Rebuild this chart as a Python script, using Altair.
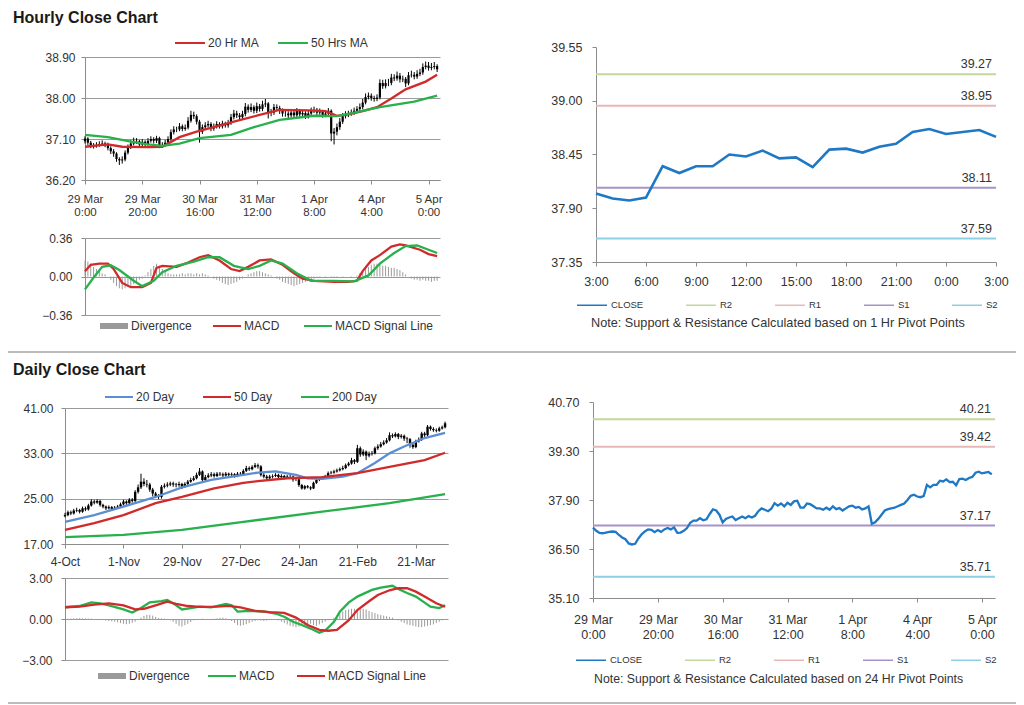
import altair as alt
import pandas as pd

# ---------------------------------------------------------------- data
section_titles = ["Hourly Close Chart", "Daily Close Chart"]
notes = ["Note: Support & Resistance Calculated based on 1 Hr Pivot Points",
         "Note: Support & Resistance Calculated based on 24 Hr Pivot Points"]

hourly_labels = [["29 Mar", "0:00"], ["29 Mar", "20:00"], ["30 Mar", "16:00"], ["31 Mar", "12:00"],
                 ["1 Apr", "8:00"], ["4 Apr", "4:00"], ["5 Apr", "0:00"]]
hourly_ticks = [0, 20, 40, 60, 80, 100, 120]
last24_labels = ["3:00", "6:00", "9:00", "12:00", "15:00", "18:00", "21:00", "0:00", "3:00"]
last24_ticks = [0, 3, 6, 9, 12, 15, 18, 21, 24]
daily_labels = ["4-Oct", "1-Nov", "29-Nov", "27-Dec", "24-Jan", "21-Feb", "21-Mar"]
daily_ticks = [0, 20, 40, 60, 80, 100, 120]

hourly_first_open = 37.05
hourly_close = [37.11, 37.02, 36.96, 36.95, 36.97, 36.99, 37.00, 36.99, 36.90, 36.83,
                36.78, 36.66, 36.63, 36.65, 36.80, 36.92, 37.00, 37.06, 37.05, 36.98,
                37.04, 36.99, 37.06, 37.10, 37.06, 37.12, 36.96, 36.97, 37.02, 37.10,
                37.25, 37.31, 37.31, 37.38, 37.32, 37.35, 37.50, 37.63, 37.60, 37.48,
                37.26, 37.36, 37.40, 37.43, 37.33, 37.38, 37.43, 37.38, 37.44, 37.40,
                37.45, 37.58, 37.66, 37.62, 37.58, 37.65, 37.81, 37.74, 37.80, 37.72,
                37.82, 37.76, 37.86, 37.88, 37.68, 37.68, 37.80, 37.78, 37.72, 37.66,
                37.66, 37.62, 37.68, 37.62, 37.72, 37.64, 37.67, 37.60, 37.66, 37.72,
                37.74, 37.68, 37.70, 37.63, 37.66, 37.72, 37.22, 37.26, 37.36, 37.48,
                37.60, 37.64, 37.66, 37.68, 37.72, 37.76, 37.80, 37.90, 38.02, 38.05,
                38.00, 37.98, 38.01, 38.33, 38.26, 38.33, 38.33, 38.45, 38.43, 38.49,
                38.41, 38.42, 38.32, 38.50, 38.51, 38.47, 38.53, 38.56, 38.68, 38.71,
                38.66, 38.68, 38.70, 38.63]
hourly_high = [37.16, 37.14, 37.06, 37.01, 37.03, 37.05, 37.07, 37.04, 37.02, 36.94,
               36.88, 36.81, 36.70, 36.72, 36.85, 36.98, 37.08, 37.13, 37.12, 37.08,
               37.10, 37.07, 37.12, 37.16, 37.14, 37.17, 37.15, 37.03, 37.08, 37.16,
               37.31, 37.38, 37.37, 37.45, 37.42, 37.42, 37.58, 37.72, 37.70, 37.64,
               37.52, 37.42, 37.47, 37.50, 37.47, 37.44, 37.49, 37.47, 37.50, 37.48,
               37.52, 37.65, 37.74, 37.72, 37.67, 37.72, 37.89, 37.86, 37.88, 37.84,
               37.90, 37.87, 37.94, 37.98, 37.91, 37.76, 37.87, 37.86, 37.83, 37.77,
               37.73, 37.71, 37.75, 37.73, 37.78, 37.76, 37.74, 37.71, 37.73, 37.79,
               37.81, 37.78, 37.77, 37.74, 37.72, 37.78, 37.75, 37.34, 37.44, 37.56,
               37.67, 37.71, 37.72, 37.75, 37.79, 37.82, 37.88, 37.98, 38.10, 38.12,
               38.10, 38.05, 38.08, 38.41, 38.40, 38.41, 38.42, 38.53, 38.52, 38.58,
               38.55, 38.49, 38.46, 38.57, 38.60, 38.57, 38.61, 38.64, 38.76, 38.80,
               38.79, 38.77, 38.79, 38.74]
hourly_low = [37.00, 36.97, 36.90, 36.89, 36.91, 36.93, 36.95, 36.92, 36.85, 36.77,
              36.71, 36.60, 36.53, 36.56, 36.61, 36.76, 36.88, 36.96, 36.99, 36.92,
              36.94, 36.94, 36.95, 37.02, 37.00, 37.01, 36.90, 36.92, 36.93, 36.98,
              37.06, 37.20, 37.25, 37.27, 37.27, 37.28, 37.31, 37.46, 37.54, 37.42,
              37.02, 37.21, 37.31, 37.35, 37.27, 37.28, 37.33, 37.33, 37.33, 37.35,
              37.35, 37.41, 37.53, 37.56, 37.52, 37.53, 37.60, 37.68, 37.69, 37.66,
              37.67, 37.70, 37.71, 37.80, 37.55, 37.60, 37.63, 37.72, 37.65, 37.59,
              37.59, 37.55, 37.57, 37.56, 37.57, 37.58, 37.59, 37.54, 37.55, 37.61,
              37.67, 37.62, 37.63, 37.57, 37.58, 37.61, 37.05, 36.98, 37.18, 37.30,
              37.43, 37.55, 37.58, 37.61, 37.63, 37.67, 37.71, 37.75, 37.86, 37.97,
              37.94, 37.92, 37.93, 37.97, 38.20, 38.21, 38.26, 38.28, 38.37, 38.38,
              38.34, 38.35, 38.24, 38.28, 38.45, 38.41, 38.42, 38.48, 38.51, 38.63,
              38.60, 38.61, 38.63, 38.57]

ma20h_idx = [0, 8, 13, 22, 27, 33, 39, 45, 52, 61, 68, 78, 84, 88, 92, 97, 102, 107, 112, 119, 123]
ma20h_val = [36.93, 36.98, 36.93, 36.92, 36.93, 37.14, 37.26, 37.36, 37.48, 37.63, 37.74,
             37.73, 37.71, 37.61, 37.64, 37.71, 37.80, 37.99, 38.19, 38.36, 38.51]
ma50h_idx = [0, 8, 16, 22, 27, 33, 40, 51, 59, 68, 80, 88, 94, 103, 115, 123]
ma50h_val = [37.19, 37.14, 37.04, 36.98, 36.95, 37.00, 37.12, 37.19, 37.36, 37.52, 37.61,
             37.60, 37.68, 37.80, 37.92, 38.05]

macd_h_idx = [0, 2, 5, 8, 10, 13, 16, 20, 23, 25, 27, 32, 36, 40, 43, 47, 51, 54, 57, 61,
              65, 69, 73, 76, 80, 87, 92, 95, 97, 100, 103, 107, 110, 112, 117, 120, 123]
macd_h_val = [0.05, 0.11, 0.12, 0.12, 0.07, -0.06, -0.10, -0.10, -0.06, 0.08, 0.10, 0.09,
              0.13, 0.18, 0.20, 0.15, 0.07, 0.05, 0.09, 0.15, 0.16, 0.11, 0.03, -0.02, -0.04,
              -0.05, -0.05, -0.04, 0.05, 0.15, 0.20, 0.28, 0.30, 0.29, 0.25, 0.21, 0.19]
sig_h_idx = [0, 3, 6, 9, 12, 17, 20, 24, 27, 32, 38, 43, 47, 52, 57, 61, 65, 69, 74, 79,
             87, 94, 99, 103, 108, 112, 116, 120, 123]
sig_h_val = [-0.12, -0.01, 0.09, 0.105, 0.06, -0.04, -0.09, -0.04, 0.04, 0.10, 0.14, 0.18,
             0.18, 0.10, 0.07, 0.10, 0.15, 0.12, 0.03, -0.04, -0.04, -0.045, 0.01, 0.12,
             0.22, 0.285, 0.29, 0.25, 0.22]
div_h = [0.15, 0.14, 0.12, 0.09, 0.07, 0.05, 0.03, 0.02, 0.0,
         -0.03, -0.06, -0.09, -0.11, -0.12, -0.11, -0.10, -0.09, -0.07, -0.05, -0.03,
         -0.02, 0.01, 0.04, 0.07, 0.10, 0.12, 0.10, 0.07, 0.05, 0.03,
         0.02, 0.02, 0.02, 0.02, 0.03, 0.02, 0.03, 0.03, 0.02, 0.03,
         0.02, 0.03, 0.02, 0.01, 0.0, -0.02, -0.03,
         -0.04, -0.06, -0.07, -0.08, -0.07, -0.06, -0.05, -0.03, -0.02, 0.0,
         0.02, 0.03, 0.04, 0.05, 0.05, 0.04, 0.03, 0.02, 0.01, 0.0,
         -0.02, -0.03, -0.05, -0.06, -0.07, -0.08, -0.09, -0.08, -0.07, -0.06, -0.05, -0.04, -0.03, -0.02,
         -0.01, -0.01, 0.0, -0.01, 0.0, -0.01, -0.01, -0.01, 0.0, -0.01, 0.0, 0.0, -0.01, 0.0, 0.01,
         0.03, 0.05, 0.07, 0.09, 0.11, 0.12, 0.12, 0.11, 0.10, 0.10, 0.09, 0.08, 0.08, 0.07, 0.06, 0.04, 0.02,
         0.0, -0.02, -0.03, -0.03, -0.04, -0.03, -0.04, -0.04, -0.05, -0.04, -0.04]

level_names = ["R2", "R1", "S1", "S2"]
hourly_levels = [39.27, 38.95, 38.11, 37.59]
daily_levels = [40.21, 39.42, 37.17, 35.71]

daily_first_open = 21.9
daily_close = [22.1, 22.6, 22.4, 22.9, 23.0, 22.7, 23.3, 23.1, 23.8, 24.5,
               24.3, 24.6, 23.9, 23.6, 23.3, 23.5, 23.2, 23.4, 23.6, 24.0,
               24.5, 24.2, 24.8, 24.6, 26.2, 27.0, 28.0, 27.6, 27.5, 26.6,
               25.9, 25.5, 25.3, 27.1, 27.3, 27.5, 27.7, 27.5, 27.4, 27.6,
               27.1, 27.6, 28.0, 28.3, 28.6, 29.2, 29.8, 28.3, 28.8, 29.1,
               29.3, 29.0, 29.4, 29.3, 29.1, 29.4, 29.2, 29.3, 29.0, 29.4,
               29.3, 29.9, 30.4, 30.2, 30.6, 30.9, 30.7, 29.2, 28.9, 28.6,
               28.9, 29.0, 29.2, 28.8, 29.0, 28.7, 28.9, 28.9, 28.4, 28.4,
               27.4, 26.8, 27.2, 27.0, 26.8, 27.8, 28.3, 28.6, 28.7, 28.9,
               29.5, 29.6, 29.8, 30.0, 30.2, 30.4, 30.9, 31.2, 31.8, 31.5,
               33.9, 32.8, 33.3, 32.6, 32.9, 33.0, 33.9, 34.2, 34.6, 34.9,
               35.3, 36.2, 36.0, 36.4, 35.9, 36.1, 35.6, 35.5, 34.5, 34.1,
               35.1, 35.4, 36.5, 36.2, 37.7, 37.3, 37.1, 37.0, 37.4, 37.6,
               38.3]
daily_high = [22.5, 22.9, 22.9, 23.2, 23.4, 23.2, 23.6, 23.6, 24.1, 24.9,
              24.8, 24.9, 24.8, 24.1, 23.8, 23.8, 23.7, 23.7, 23.9, 24.3,
              24.8, 24.7, 25.1, 25.1, 26.5, 27.5, 29.4, 28.6, 28.3, 27.8,
              26.9, 26.2, 25.8, 27.4, 27.7, 27.9, 28.0, 28.0, 27.8, 28.0,
              27.8, 27.9, 28.3, 28.7, 29.0, 29.6, 30.4, 30.0, 29.2, 29.5,
              29.7, 29.6, 29.7, 29.7, 29.6, 29.7, 29.6, 29.6, 29.5, 29.7,
              29.7, 30.2, 30.8, 30.7, 30.9, 31.3, 31.2, 30.9, 29.5, 29.2,
              29.2, 29.3, 29.5, 29.4, 29.3, 29.2, 29.2, 29.2, 29.1, 28.7,
              28.5, 27.6, 27.4, 27.4, 27.2, 28.0, 28.6, 28.8, 29.0, 29.2,
              29.8, 29.9, 30.1, 30.3, 30.5, 30.8, 31.2, 31.5, 32.2, 32.0,
              34.5, 34.2, 33.7, 33.5, 33.3, 33.4, 34.2, 34.6, 35.0, 35.3,
              35.7, 36.7, 36.5, 36.7, 36.6, 36.4, 36.3, 35.9, 35.7, 34.8,
              35.4, 35.8, 36.8, 36.8, 38.0, 37.9, 37.6, 37.4, 37.7, 37.9,
              38.6]
daily_low = [21.7, 21.9, 22.1, 22.2, 22.6, 22.4, 22.5, 22.8, 22.9, 23.6,
             24.0, 24.1, 23.6, 23.3, 23.0, 23.1, 22.9, 23.0, 23.2, 23.4,
             23.8, 23.9, 24.0, 24.3, 24.4, 25.9, 26.7, 27.2, 27.0, 26.2,
             25.4, 25.1, 24.9, 25.0, 26.8, 27.0, 27.2, 27.1, 27.0, 27.1,
             26.7, 26.9, 27.3, 27.8, 28.1, 28.4, 29.0, 27.9, 28.0, 28.6,
             28.8, 28.7, 28.8, 29.0, 28.8, 28.9, 28.9, 29.0, 28.7, 28.8,
             29.0, 29.1, 29.7, 29.9, 30.0, 30.4, 30.3, 28.9, 28.6, 28.3,
             28.4, 28.6, 28.8, 28.5, 28.5, 28.4, 28.5, 28.6, 28.0, 28.1,
             27.1, 26.6, 26.6, 26.8, 26.5, 26.7, 27.6, 28.1, 28.4, 28.5,
             28.7, 29.3, 29.4, 29.6, 29.8, 30.0, 30.2, 30.7, 31.0, 31.1,
             31.3, 32.4, 32.5, 31.8, 32.3, 32.6, 32.8, 33.6, 34.0, 34.4,
             34.7, 35.1, 35.7, 35.8, 35.5, 35.6, 35.2, 34.8, 34.0, 33.8,
             33.9, 34.9, 35.2, 35.9, 36.0, 37.0, 36.8, 36.7, 36.8, 37.2,
             37.4]

ma20d_idx = [0, 10, 20, 31, 40, 50, 61, 66, 72, 79, 83, 88, 95, 100, 106, 111, 116, 123, 130]
ma20d_val = [20.9, 22.1, 23.6, 25.3, 27.0, 28.3, 29.2, 29.6, 29.8, 29.2, 28.6, 28.5, 28.9,
             29.5, 31.3, 33.0, 34.2, 35.7, 36.6]
ma50d_idx = [0, 10, 20, 31, 40, 51, 61, 66, 76, 88, 100, 111, 123, 130]
ma50d_val = [19.5, 20.7, 22.1, 24.2, 25.3, 26.8, 27.8, 28.1, 28.6, 28.8, 29.5, 30.6, 31.8, 33.1]
ma200d_idx = [0, 20, 40, 61, 88, 111, 130]
ma200d_val = [18.2, 18.6, 19.5, 20.9, 22.7, 24.2, 25.8]

macd_d_idx = [0, 5, 9, 12, 15, 20, 23, 26, 29, 33, 35, 38, 40, 43, 46, 50, 55, 57, 59, 63,
              68, 72, 75, 78, 81, 84, 87, 89, 92, 94, 97, 100, 105, 108, 112, 114, 117, 120,
              123, 125, 128, 130]
macd_d_val = [0.86, 0.95, 1.22, 1.15, 1.0, 0.7, 0.47, 0.8, 1.22, 1.3, 1.4, 1.0, 0.7, 0.8,
              0.9, 0.85, 1.1, 1.0, 0.54, 0.6, 0.55, 0.4, 0.17, -0.2, -0.44, -0.7, -1.0,
              -0.85, -0.2, 0.54, 1.2, 1.64, 2.13, 2.3, 2.43, 2.2, 1.9, 1.64, 1.2, 0.9, 0.8, 1.0]
sig_d_idx = [0, 5, 10, 15, 20, 24, 27, 31, 35, 38, 42, 46, 52, 56, 60, 65, 70, 75, 79, 83,
             87, 90, 93, 97, 100, 104, 107, 111, 114, 117, 120, 123, 127, 130]
sig_d_val = [0.86, 0.9, 1.05, 1.15, 1.0, 0.7, 0.75, 1.0, 1.27, 1.1, 0.95, 0.88, 0.9, 0.96,
             0.85, 0.59, 0.5, 0.45, 0.1, -0.44, -0.8, -0.86, -0.8, -0.1, 0.66, 1.3, 1.76,
             2.1, 2.25, 2.25, 2.0, 1.64, 1.15, 0.9]
div_d = [0.0, 0.02, 0.03, 0.05, 0.05, 0.06, 0.05, 0.04, 0.03, 0.02, 0.0, -0.02, -0.05, -0.08,
         -0.12, -0.15, -0.18, -0.2,
         -0.25, -0.3, -0.35, -0.38, -0.35, -0.28, -0.2,
         -0.05, 0.1, 0.22, 0.3, 0.3, 0.25, 0.15,
         0.08, 0.05, 0.03, 0.0, -0.1, -0.2,
         -0.35, -0.5, -0.55, -0.45, -0.35, -0.22, -0.1, -0.05, 0.0,
         0.02, 0.0, -0.02, -0.03, 0.02, 0.05, 0.08, 0.1, 0.05, 0.0,
         -0.15, -0.3, -0.45, -0.5, -0.45, -0.38, -0.3, -0.2, -0.15, -0.1, -0.12, -0.15, -0.12,
         -0.08, -0.05, -0.03,
         -0.1, -0.2, -0.3, -0.4, -0.5, -0.55, -0.6, -0.55, -0.5, -0.45, -0.4, -0.35, -0.45,
         -0.5, -0.4, -0.3, -0.2, -0.1, 0.0, 0.1,
         0.25, 0.4, 0.55, 0.65, 0.7, 0.75, 0.75, 0.7, 0.72, 0.75, 0.7, 0.6, 0.5, 0.45, 0.35,
         0.3, 0.25, 0.2, 0.15, 0.1,
         0.0, -0.1, -0.2, -0.3, -0.4, -0.45, -0.5, -0.55, -0.6, -0.6, -0.55, -0.5, -0.45,
         -0.4, -0.3, -0.2, -0.1, -0.05]

# ---------------------------------------------------------------- style
W, H = 1008, 696
FONT = "Liberation Sans"
TXT = "#333333"
AXC = "#8c8c8c"
GRIDC = "#9a9a9a"
RED = "#d02a2a"
GREEN = "#27b04b"
BLUE20 = "#5b8ed2"
CLOSEBLUE = "#1f78c4"
DIVGRAY = "#9a9a9a"
LEVEL_COLORS = ["#c3d69b", "#e6b9b8", "#a793c9", "#8fcfe3"]


def ax_y(x0, values, pad, grid=True, size=12):
    return alt.Axis(orient="left", offset=-x0, values=values, format=".2f", grid=grid,
                    gridColor=GRIDC, gridWidth=1, domainColor=AXC, domainWidth=1,
                    tickColor=AXC, tickSize=4, labelPadding=pad, labelFont=FONT,
                    labelFontSize=size, labelColor=TXT, title=None, labelOverlap=False)


def ax_x(ybot, values, expr, pad, lh=13, size=12):
    return alt.Axis(orient="bottom", offset=ybot - H, values=values, labelExpr=expr,
                    grid=False, domainColor=AXC, tickColor=AXC, tickSize=4, labelPadding=pad,
                    labelFont=FONT, labelFontSize=size, labelColor=TXT, labelLineHeight=lh,
                    title=None, labelOverlap=False, labelFlush=False)


def leg(x, y, pad, size=900, sw=2, fs=12, offset=2):
    return alt.Legend(orient="none", legendX=x, legendY=y, direction="horizontal", title=None,
                      symbolType="stroke", symbolSize=size, symbolStrokeWidth=sw,
                      labelFont=FONT, labelFontSize=fs, labelColor=TXT, columnPadding=pad,
                      labelOffset=offset, padding=0)


def js_list(items):
    return "[" + ",".join(js_list(v) if isinstance(v, list) else "'" + v + "'" for v in items) + "]"


hourly_expr = js_list(hourly_labels) + "[round(datum.value/20)]"
last24_expr = js_list(last24_labels) + "[round(datum.value/3)]"
daily_expr = js_list(daily_labels) + "[round(datum.value/20)]"

# ---------------------------------------------------------------- frames
hp_df = pd.DataFrame({"i": range(len(hourly_close)), "close": hourly_close,
                      "high": hourly_high, "low": hourly_low})
hp_df["open"] = hp_df["close"].shift(1).fillna(hourly_first_open)
hma_df = pd.concat([pd.DataFrame({"i": ma20h_idx, "val": ma20h_val, "name": "20 Hr MA"}),
                    pd.DataFrame({"i": ma50h_idx, "val": ma50h_val, "name": "50 Hrs MA"})])
hmacd_df = pd.concat([pd.DataFrame({"i": macd_h_idx, "val": macd_h_val, "name": "MACD"}),
                      pd.DataFrame({"i": sig_h_idx, "val": sig_h_val, "name": "MACD Signal Line"})])
hdiv_df = pd.DataFrame({"i": range(len(div_h)), "val": div_h, "name": "Divergence"})
hs_df = pd.DataFrame({"h": range(25), "close": hourly_close[-25:], "name": "CLOSE"})
hlev_df = pd.DataFrame({"name": level_names, "val": hourly_levels})

dp_df = pd.DataFrame({"i": range(len(daily_close)), "close": daily_close,
                      "high": daily_high, "low": daily_low})
dp_df["open"] = dp_df["close"].shift(1).fillna(daily_first_open)
dma_df = pd.concat([pd.DataFrame({"i": ma20d_idx, "val": ma20d_val, "name": "20 Day"}),
                    pd.DataFrame({"i": ma50d_idx, "val": ma50d_val, "name": "50 Day"}),
                    pd.DataFrame({"i": ma200d_idx, "val": ma200d_val, "name": "200 Day"})])
dmacd_df = pd.concat([pd.DataFrame({"i": macd_d_idx, "val": macd_d_val, "name": "MACD"}),
                      pd.DataFrame({"i": sig_d_idx, "val": sig_d_val, "name": "MACD Signal Line"})])
ddiv_df = pd.DataFrame({"i": range(len(div_d)), "val": div_d, "name": "Divergence"})
ds_df = pd.DataFrame({"i": range(len(hourly_close)), "close": hourly_close, "name": "CLOSE"})
dlev_df = pd.DataFrame({"name": level_names, "val": daily_levels})

# ---------------------------------------------------------------- scales (chart coords)
hp_xs = alt.Scale(domain=[0, 124], range=[77, 432], nice=False, zero=False)
hp_ys = alt.Scale(domain=[36.2, 38.9], range=[172, 49], nice=False, zero=False)
hm_ys = alt.Scale(domain=[-0.36, 0.36], range=[307, 230], nice=False, zero=False)
hs_xs = alt.Scale(domain=[0, 24], range=[588, 988], nice=False, zero=False)
hs_ys = alt.Scale(domain=[37.35, 39.55], range=[254, 39], nice=False, zero=False)
dp_xs = alt.Scale(domain=[0, 131], range=[57, 440], nice=False, zero=False)
dp_ys = alt.Scale(domain=[17, 41], range=[536, 400], nice=False, zero=False)
dm_ys = alt.Scale(domain=[-3, 3], range=[652, 570], nice=False, zero=False)
ds_xs = alt.Scale(domain=[0, 124], range=[585, 987], nice=False, zero=False)
ds_ys = alt.Scale(domain=[35.1, 40.7], range=[590, 394], nice=False, zero=False)

hp_xax = ax_x(172, hourly_ticks, hourly_expr, 9, 13, 11.5)
hp_yax = ax_y(77, [36.2, 37.1, 38.0, 38.9], 6)
hm_yax = ax_y(77, [-0.36, 0.0, 0.36], 9)
hs_xax = ax_x(254, last24_ticks, last24_expr, 9, 13, 12.5)
hs_yax = ax_y(588, [37.35, 37.9, 38.45, 39.0, 39.55], 10, grid=False, size=12.5)
dp_xax = ax_x(536, daily_ticks, daily_expr, 8, 13, 12)
dp_yax = ax_y(57, [17, 25, 33, 41], 8)
dm_yax = ax_y(57, [-3, 0, 3], 9)
ds_xax = ax_x(590, hourly_ticks, hourly_expr, 11, 15, 12.5)
ds_yax = ax_y(585, [35.1, 36.5, 37.9, 39.3, 40.7], 10, grid=False, size=12.5)

# ---------------------------------------------------------------- hourly panels
hp_wick = alt.Chart(hp_df).mark_rule(color="black", strokeWidth=1).encode(
    x=alt.X("i:Q", scale=hp_xs, axis=hp_xax),
    y=alt.Y("low:Q", scale=hp_ys, axis=hp_yax), y2="high:Q")
hp_body = alt.Chart(hp_df).mark_rule(color="black", strokeWidth=2.2).encode(
    x=alt.X("i:Q", scale=hp_xs, axis=hp_xax),
    y=alt.Y("open:Q", scale=hp_ys, axis=hp_yax), y2="close:Q")
hp_ma = alt.Chart(hma_df).mark_line(strokeWidth=2.3).encode(
    x=alt.X("i:Q", scale=hp_xs, axis=hp_xax),
    y=alt.Y("val:Q", scale=hp_ys, axis=hp_yax),
    color=alt.Color("name:N", scale=alt.Scale(domain=["20 Hr MA", "50 Hrs MA"], range=[RED, GREEN]),
                    legend=leg(166, 19, 15)))
hp = alt.layer(hp_wick, hp_body, hp_ma)

hm_div = alt.Chart(hdiv_df).mark_rule(strokeWidth=1).encode(
    x=alt.X("i:Q", scale=hp_xs, axis=None),
    y=alt.Y("val:Q", scale=hm_ys, axis=None), y2=alt.datum(0),
    color=alt.Color("name:N", scale=alt.Scale(domain=["Divergence"], range=[DIVGRAY]),
                    legend=leg(89, 301, 10, size=784, sw=6, offset=0)))
hm_lines = alt.Chart(hmacd_df).mark_line(strokeWidth=2.3).encode(
    x=alt.X("i:Q", scale=hp_xs, axis=None),
    y=alt.Y("val:Q", scale=hm_ys, axis=hm_yax),
    color=alt.Color("name:N", scale=alt.Scale(domain=["MACD", "MACD Signal Line"], range=[RED, GREEN]),
                    legend=leg(204, 303, 20, size=784)))

hs_cs = alt.Scale(domain=["CLOSE"] + level_names, range=[CLOSEBLUE] + LEVEL_COLORS)
hs_leg = leg(568, 281, 39, size=900, sw=1.5, fs=9.5, offset=3)
hs_line = alt.Chart(hs_df).mark_line(strokeWidth=2.6).encode(
    x=alt.X("h:Q", scale=hs_xs, axis=hs_xax),
    y=alt.Y("close:Q", scale=hs_ys, axis=hs_yax),
    color=alt.Color("name:N", scale=hs_cs, legend=hs_leg))
hs_rules = alt.Chart(hlev_df).mark_rule(strokeWidth=2).encode(
    x=alt.datum(0), x2=alt.datum(24),
    y=alt.Y("val:Q", scale=hs_ys, axis=hs_yax),
    color=alt.Color("name:N", scale=hs_cs, legend=hs_leg))
hs_text = alt.Chart(hlev_df).mark_text(align="right", baseline="bottom", dx=-4, dy=-3,
                                       font=FONT, fontSize=12.5, color=TXT).encode(
    x=alt.datum(24), y=alt.Y("val:Q", scale=hs_ys, axis=hs_yax),
    text=alt.Text("val:Q", format=".2f"))
hs = alt.layer(hs_rules, hs_line, hs_text)

# ---------------------------------------------------------------- daily panels
dp_wick = alt.Chart(dp_df).mark_rule(color="black", strokeWidth=1).encode(
    x=alt.X("i:Q", scale=dp_xs, axis=dp_xax),
    y=alt.Y("low:Q", scale=dp_ys, axis=dp_yax), y2="high:Q")
dp_body = alt.Chart(dp_df).mark_rule(color="black", strokeWidth=2.4).encode(
    x=alt.X("i:Q", scale=dp_xs, axis=dp_xax),
    y=alt.Y("open:Q", scale=dp_ys, axis=dp_yax), y2="close:Q")
dp_ma = alt.Chart(dma_df).mark_line(strokeWidth=2.3).encode(
    x=alt.X("i:Q", scale=dp_xs, axis=dp_xax),
    y=alt.Y("val:Q", scale=dp_ys, axis=dp_yax),
    color=alt.Color("name:N", scale=alt.Scale(domain=["20 Day", "50 Day", "200 Day"],
                                              range=[BLUE20, RED, GREEN]),
                    legend=leg(96, 374, 24, size=784)))
dp = alt.layer(dp_wick, dp_body, dp_ma)

dm_div = alt.Chart(ddiv_df).mark_rule(strokeWidth=1).encode(
    x=alt.X("i:Q", scale=dp_xs, axis=None),
    y=alt.Y("val:Q", scale=dm_ys, axis=None), y2=alt.datum(0),
    color=alt.Color("name:N", scale=alt.Scale(domain=["Divergence"], range=[DIVGRAY]),
                    legend=leg(87, 651, 10, size=784, sw=6, offset=0)))
dm_lines = alt.Chart(dmacd_df).mark_line(strokeWidth=2.3).encode(
    x=alt.X("i:Q", scale=dp_xs, axis=None),
    y=alt.Y("val:Q", scale=dm_ys, axis=dm_yax),
    color=alt.Color("name:N", scale=alt.Scale(domain=["MACD", "MACD Signal Line"], range=[GREEN, RED]),
                    legend=leg(199, 653, 18, size=784)))

ds_cs = alt.Scale(domain=["CLOSE"] + level_names, range=[CLOSEBLUE] + LEVEL_COLORS)
ds_leg = leg(567, 636, 39, size=900, sw=1.5, fs=9.5, offset=3)
ds_line = alt.Chart(ds_df).mark_line(strokeWidth=2.3).encode(
    x=alt.X("i:Q", scale=ds_xs, axis=ds_xax),
    y=alt.Y("close:Q", scale=ds_ys, axis=ds_yax),
    color=alt.Color("name:N", scale=ds_cs, legend=ds_leg))
ds_rules = alt.Chart(dlev_df).mark_rule(strokeWidth=2).encode(
    x=alt.datum(0), x2=alt.datum(124),
    y=alt.Y("val:Q", scale=ds_ys, axis=ds_yax),
    color=alt.Color("name:N", scale=ds_cs, legend=ds_leg))
ds_text = alt.Chart(dlev_df).mark_text(align="right", baseline="bottom", dx=-4, dy=-3,
                                       font=FONT, fontSize=12.5, color=TXT).encode(
    x=alt.datum(124), y=alt.Y("val:Q", scale=ds_ys, axis=ds_yax),
    text=alt.Text("val:Q", format=".2f"))
ds = alt.layer(ds_rules, ds_line, ds_text)


# ---------------------------------------------------------------- decorations
def title_text(t, x, y):
    return alt.Chart(pd.DataFrame({"t": [t]})).mark_text(
        align="left", baseline="alphabetic", font=FONT, fontSize=16, fontWeight="bold",
        color="#1a1a1a").encode(text="t:N", x=alt.value(x), y=alt.value(y))


def note_text(t, x, y, size):
    return alt.Chart(pd.DataFrame({"t": [t]})).mark_text(
        align="left", baseline="middle", font=FONT, fontSize=size, color=TXT).encode(
        text="t:N", x=alt.value(x), y=alt.value(y))


def separator(y):
    return alt.Chart(pd.DataFrame({"a": [0]})).mark_rule(color="#a6a6a6", strokeWidth=1.5).encode(
        x=alt.value(0), x2=alt.value(W), y=alt.value(y))


deco = [title_text(section_titles[0], 5, 15), title_text(section_titles[1], 5, 367),
        note_text(notes[0], 583, 315, 12.7), note_text(notes[1], 586, 671, 12.3),
        separator(344), separator(695)]

chart = alt.layer(hp, hm_div, hm_lines, hs, dp, dm_div, dm_lines, ds, *deco).resolve_scale(
    x="independent", y="independent", color="independent"
).properties(
    width=W, height=H, autosize=alt.AutoSizeParams(type="none"), padding=0, background="white"
).configure_view(stroke=None)

chart.save("out.html", embed_options={"renderer": "svg", "actions": False})
